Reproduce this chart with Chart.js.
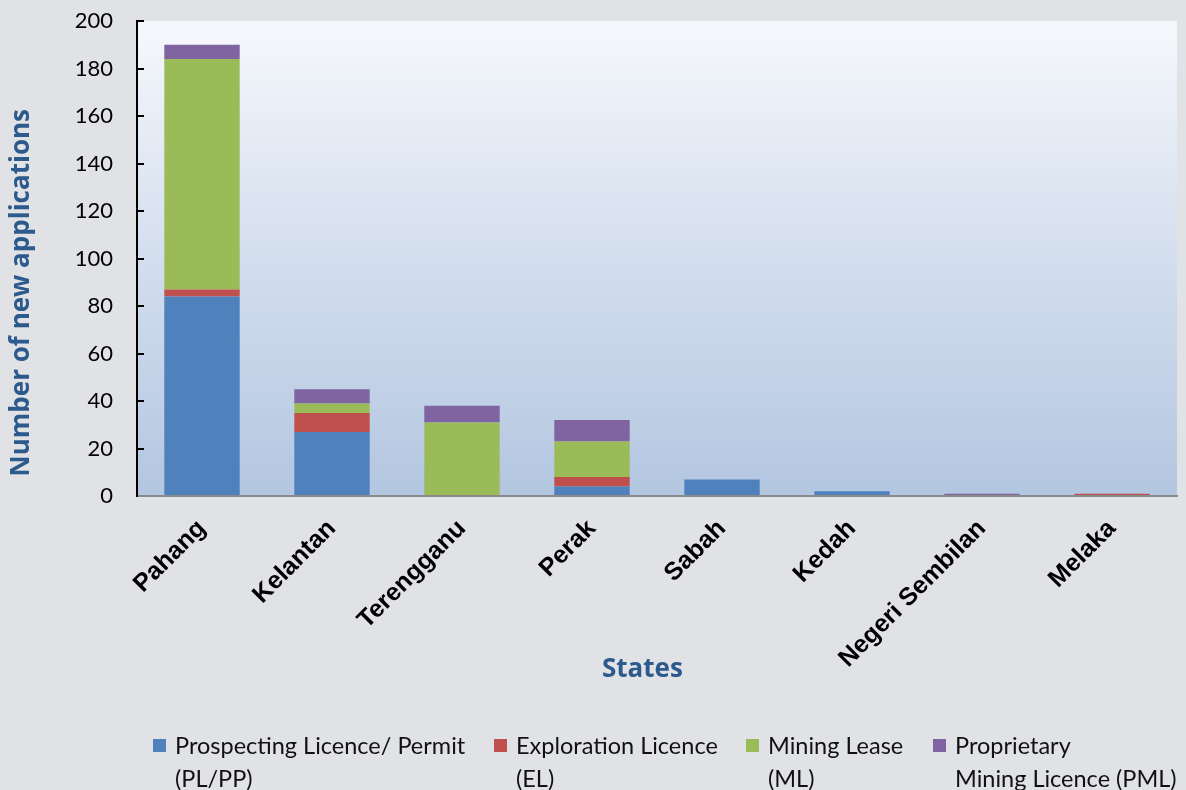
<!DOCTYPE html>
<html>
<head>
<meta charset="utf-8">
<script src="https://cdn.jsdelivr.net/npm/chart.js@4/dist/chart.umd.min.js"></script>
<style>
  body { margin: 0; background: #e1e2e6; }
  #wrap { position: relative; width: 1186px; height: 790px; }
  #legend { position: absolute; left: 0; top: 729px; width: 1186px; font-family: Lato, "Open Sans", sans-serif; font-size: 23.5px; color: #111; }
  .item { position: absolute; top: 0; line-height: 33px; white-space: nowrap; }
  .box { position: absolute; left: -22px; top: 10px; width: 13px; height: 13px; }
</style>
</head>
<body>
<div id="wrap">
  <canvas id="chart" width="1186" height="790"></canvas>
  <div id="legend"></div>
</div>
<script>
const states = ['Pahang', 'Kelantan', 'Terengganu', 'Perak', 'Sabah', 'Kedah', 'Negeri Sembilan', 'Melaka']
const prospecting = [84, 27, 0, 4, 7, 2, 0, 0]
const exploration = [3, 8, 0, 4, 0, 0, 0, 1]
const miningLease = [97, 4, 31, 15, 0, 0, 0, 0]
const proprietary = [6, 6, 7, 9, 0, 0, 1, 0]
const seriesNames = [
  ['Prospecting Licence/ Permit', '(PL/PP)'],
  ['Exploration Licence', '(EL)'],
  ['Mining Lease', '(ML)'],
  ['Proprietary', 'Mining Licence (PML)']
]
const colors = ['#4f81bd', '#c0504d', '#9bbb59', '#8064a2']
const legendLeft = [175, 516, 768, 955]
const xTitle = 'States'
const yTitle = 'Number of new applications'

const ctx = document.getElementById('chart')

// plot area gradient fill
const plotBg = {
  id: 'plotBg',
  beforeDraw(chart) {
    const { ctx, chartArea: a } = chart
    const g = ctx.createLinearGradient(0, a.top, 0, a.bottom)
    g.addColorStop(0, '#f6f8fc')
    g.addColorStop(0.5, '#d3deee')
    g.addColorStop(1, '#b3c6e0')
    ctx.save()
    ctx.fillStyle = g
    ctx.fillRect(a.left, a.top, a.right - a.left, a.bottom - a.top)
    ctx.restore()
  }
}

// axis titles, placed like the original (a bit off-centre)
const axisTitles = {
  id: 'axisTitles',
  afterDraw(chart) {
    const { ctx, chartArea: a } = chart
    ctx.save()
    ctx.fillStyle = '#2d5a8c'
    ctx.font = 'bold 26px "Open Sans", sans-serif'
    ctx.textAlign = 'center'
    ctx.textBaseline = 'middle'
    ctx.fillText(xTitle, a.left + (a.right - a.left) * 0.486, 670)
    ctx.translate(22, a.top + (a.bottom - a.top) * 0.572)
    ctx.rotate(-Math.PI / 2)
    ctx.fillText(yTitle, 0, 0)
    ctx.restore()
  }
}

const chart = new Chart(ctx, {
  type: 'bar',
  data: {
    labels: states,
    datasets: [prospecting, exploration, miningLease, proprietary].map((d, i) => ({
      label: seriesNames[i].join(' '),
      data: d,
      backgroundColor: colors[i],
      barPercentage: 0.58,
      categoryPercentage: 1
    }))
  },
  options: {
    responsive: false,
    animation: false,
    layout: { padding: { top: 0, right: 9, bottom: 100, left: 0 } },
    plugins: { legend: { display: false }, tooltip: { enabled: false } },
    scales: {
      x: {
        stacked: true,
        grid: { display: false },
        border: { color: '#8a8a8a', width: 2 },
        ticks: {
          minRotation: 45, maxRotation: 45, padding: 10,
          color: '#000',
          font: { family: '"Liberation Sans", Arial, sans-serif', size: 25, weight: 'bold' }
        },
        afterFit: s => { s.height = 194 }
      },
      y: {
        stacked: true,
        min: 0, max: 200,
        border: { color: '#000', width: 2 },
        grid: { drawOnChartArea: false, tickLength: -7, color: '#000', lineWidth: 2 },
        ticks: {
          stepSize: 20, color: '#000', padding: 31,
          font: { family: 'Lato, "Open Sans", sans-serif', size: 22 }
        },
        afterFit: s => { s.width = 137; s.paddingTop = 21; s.paddingBottom = 13 }
      }
    }
  },
  plugins: [plotBg, axisTitles]
})

const legend = document.getElementById('legend')
seriesNames.forEach((name, i) => {
  const el = document.createElement('div')
  el.className = 'item'
  el.style.left = legendLeft[i] + 'px'
  el.innerHTML = '<span class="box" style="background:' + colors[i] + '"></span>' + name.join('<br>')
  legend.appendChild(el)
})
</script>
</body>
</html>
